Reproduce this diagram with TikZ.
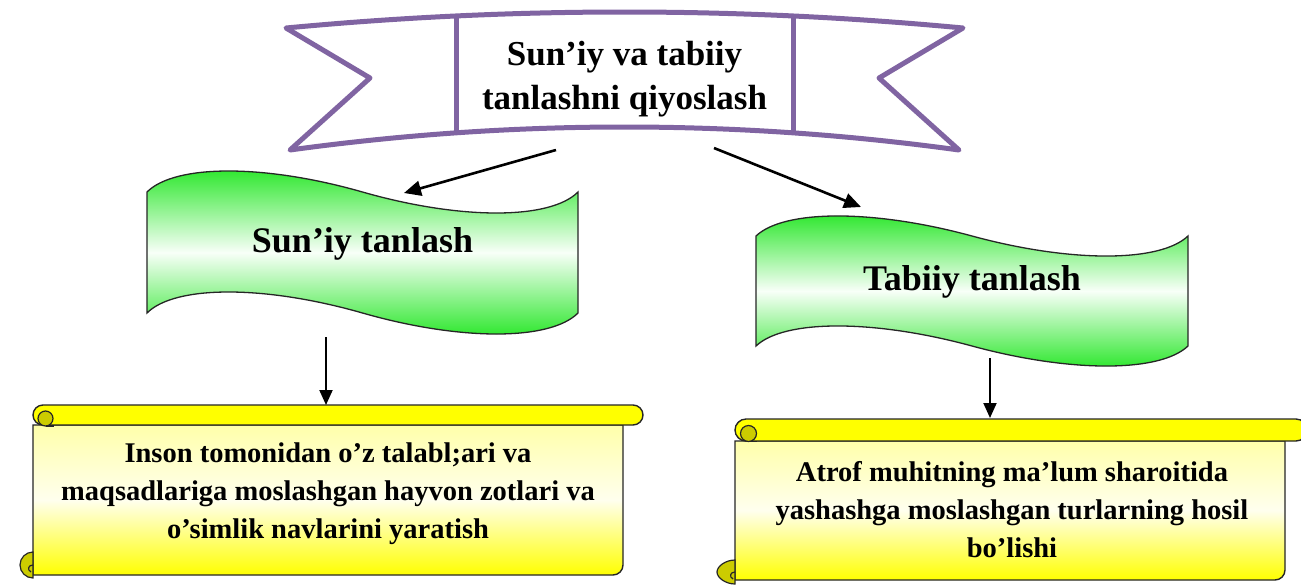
\documentclass[tikz,border=0pt]{standalone}
\usepackage{fontspec}
\setmainfont{Liberation Serif}
\usetikzlibrary{arrows.meta}
\definecolor{ribbon}{RGB}{128,100,162}
\definecolor{wgreen}{RGB}{34,230,34}
\definecolor{wmid}{RGB}{248,255,248}
\definecolor{scrY}{RGB}{255,255,0}
\definecolor{scrTop}{RGB}{255,255,170}
\definecolor{scrMid}{RGB}{255,255,238}
\definecolor{curlY}{RGB}{204,204,0}
\begin{document}
\begin{tikzpicture}[x=1pt,y=-1pt,
  ribbonline/.style={draw=ribbon, line width=5pt, line join=round},
  wave/.style={draw=black!85, line width=1.3pt, top color=wgreen, bottom color=wgreen, middle color=wmid},
  body/.style={draw=black!85, line width=1.4pt, top color=scrTop, bottom color=scrY, middle color=scrMid},
  band/.style={draw=black!85, line width=1.4pt, fill=scrY},
  curl/.style={draw=black!85, line width=1.2pt, fill=curlY},
  ttl/.style={font=\fontsize{35}{44}\selectfont\bfseries, align=center, inner sep=0pt},
  wtxt/.style={font=\fontsize{36}{43}\selectfont\bfseries, inner sep=0pt},
  stxt/.style={font=\fontsize{28.5}{38}\selectfont\bfseries, align=center, inner sep=0pt},
  arr/.style={line width=2.6pt, -{Triangle[length=17pt,width=15pt]}},
  darr/.style={line width=2pt, -{Triangle[length=15pt,width=13pt]}}]
\useasboundingbox (0,0) rectangle (1301,584);
\fill[white] (0,0) rectangle (1301,584);
\clip (0,0) rectangle (1301,584);

% ---------- banner ----------
\path[ribbonline, fill=white] (286,28) .. controls (511.67,6.67) and (737.33,6.67) .. (963,28)
  -- (879,78) -- (959,150) .. controls (736,119.33) and (513,119.33) .. (290,150)
  -- (370,78) -- cycle;
\draw[ribbonline] (456,16) -- (456,132.8);
\draw[ribbonline] (793,16) -- (793,132.8);
\node[ttl] (title) at (624.5,79) {Sun’iy va tabiiy\\tanlashni qiyoslash};

% ---------- waves ----------
\path[wave] (147,192) .. controls (175,164) and (264.7,164) .. (362.5,192)
  .. controls (460.3,220) and (550,220) .. (578,192) -- (578,313)
  .. controls (550,341) and (460.3,341) .. (362.5,313)
  .. controls (264.7,285) and (175,285) .. (147,313) -- cycle;
\node[wtxt] (sun) at (362.5,244) {Sun’iy tanlash};

\path[wave] (756,236) .. controls (784.1,209.3) and (873.9,209.3) .. (972,236)
  .. controls (1070.1,262.7) and (1159.9,262.7) .. (1188,236) -- (1188,346)
  .. controls (1159.9,372.7) and (1070.1,372.7) .. (972,346)
  .. controls (873.9,319.3) and (784.1,319.3) .. (756,346) -- cycle;
\node[wtxt] (tab) at (972,282) {Tabiiy tanlash};

% ---------- left scroll ----------
\path[body] (33,425) -- (33,575) -- (613,575) .. controls (618.5,575) and (623,570.5) .. (623,565)
  -- (623,425) -- cycle;
\path[band] (43,405) -- (633,405) .. controls (638.52,405) and (643,409.48) .. (643,415)
  .. controls (643,420.52) and (638.52,425) .. (633,425) -- (43,425)
  .. controls (37.48,425) and (33,420.52) .. (33,415) .. controls (33,409.48) and (37.48,405) .. (43,405) -- cycle;
\path[curl] (45.5,418.5) circle[radius=7.5];
\draw[black!85, line width=1.2pt] (45.5,426) -- (54,426);
\path[curl] (33,552) .. controls (25.8,552) and (20,557.8) .. (20,565)
  .. controls (20,572.2) and (25.8,578) .. (33,578) -- cycle;
\draw[black!85, line width=1.2pt] (33,565) .. controls (28,565) and (27,570) .. (31,572);
\node[stxt] (d1) at (328,494) {Inson tomonidan o’z talabl;ari va\\maqsadlariga moslashgan hayvon zotlari va\\o’simlik navlarini yaratish};

% ---------- right scroll ----------
\path[body] (735,441) -- (735,580) -- (1275,580) .. controls (1280.5,580) and (1285,575.5) .. (1285,570)
  -- (1285,441) -- cycle;
\path[band] (746,419) -- (1296,419) .. controls (1302,419) and (1307,424) .. (1307,430)
  .. controls (1307,436) and (1302,441) .. (1296,441) -- (746,441)
  .. controls (740,441) and (735,436) .. (735,430) .. controls (735,424) and (740,419) .. (746,419) -- cycle;
\path[curl] (748.5,433.5) circle[radius=8];
\draw[black!85, line width=1.2pt] (748.5,441.5) -- (757,441.5);
\path[curl] (735,560) .. controls (726,560) and (717,566) .. (717,572)
  .. controls (717,578) and (726,584) .. (735,584) -- cycle;
\draw[black!85, line width=1.2pt] (735,572) .. controls (730,572) and (729,577) .. (733,579);
\node[stxt] (d2) at (1012,510) {Atrof muhitning ma’lum sharoitida\\yashashga moslashgan turlarning hosil\\bo’lishi};

% ---------- connectors ----------
\coordinate (a1s) at (556,150);
\coordinate (a1e) at (404,193);
\coordinate (a2s) at (714,148);
\coordinate (a2e) at (861,207);
\coordinate (a3s) at (326,337);
\coordinate (a3e) at (326,405);
\coordinate (a4s) at (990,358);
\coordinate (a4e) at (990,418);
\draw[arr] (a1s) -- (a1e);
\draw[arr] (a2s) -- (a2e);
\draw[darr] (a3s) -- (a3e);
\draw[darr] (a4s) -- (a4e);
\end{tikzpicture}
\end{document}
